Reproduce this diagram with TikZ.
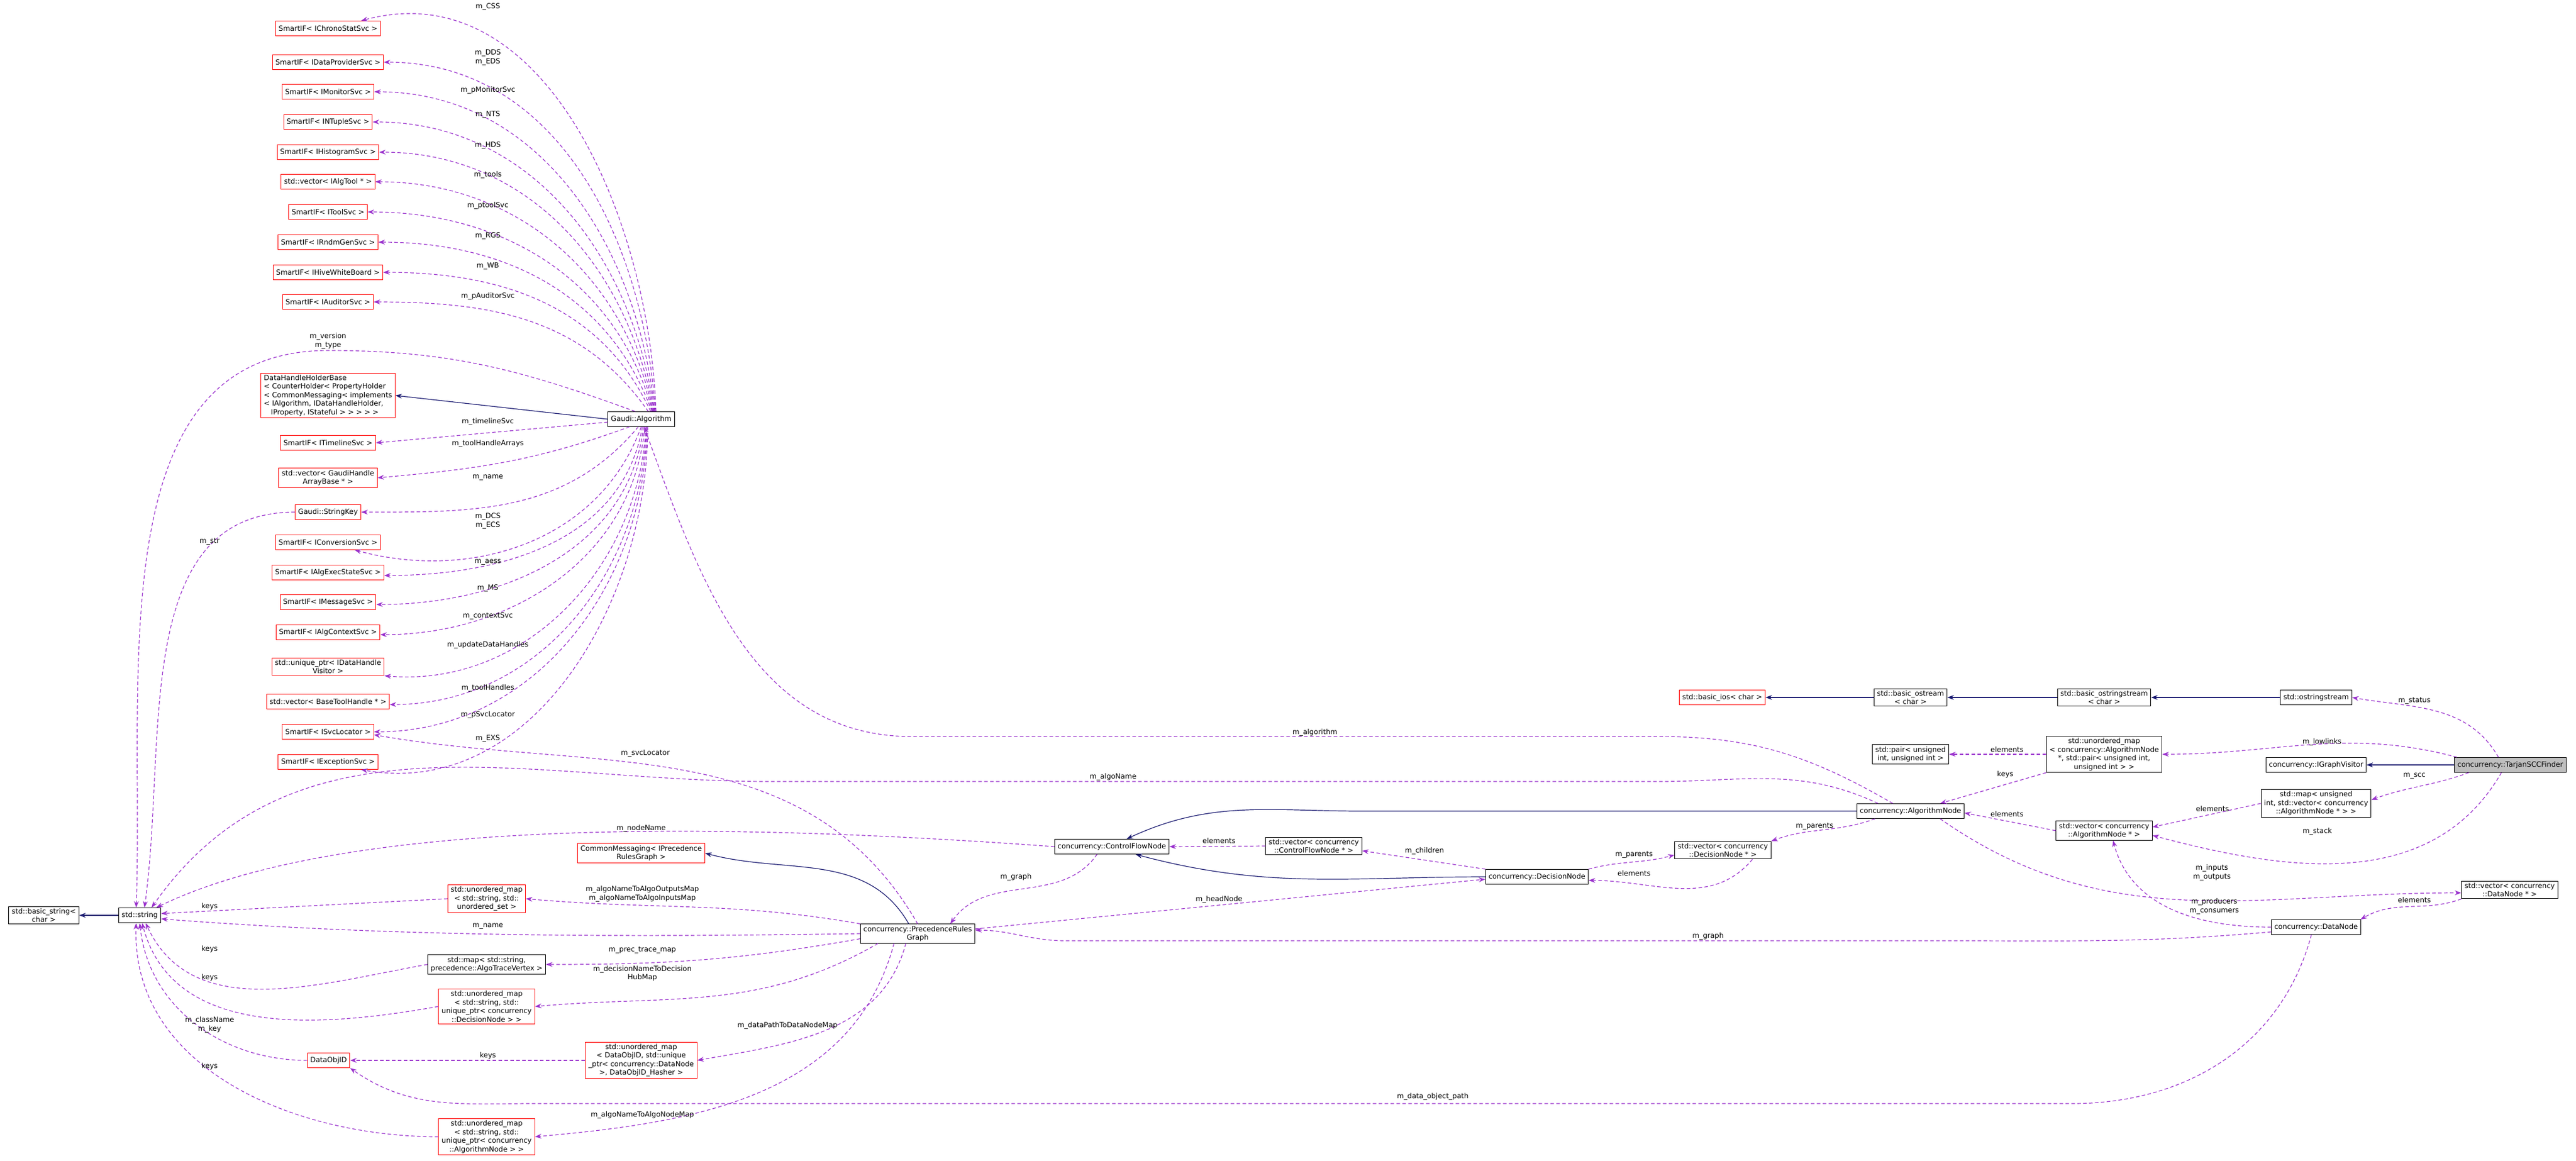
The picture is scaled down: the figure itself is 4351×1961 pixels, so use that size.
\documentclass[tikz,border=0pt]{standalone}
\usepackage{fontspec}
\setmainfont{DejaVu Sans}
\usetikzlibrary{arrows.meta}
\definecolor{edgepurple}{HTML}{9A32CD}
\definecolor{edgenavy}{HTML}{191970}
\begin{document}
\begin{tikzpicture}[
    x=0.25pt, y=-0.25pt,
    every node/.style={font=\fontsize{3}{3.625}\selectfont},
    cls/.style={draw=black, fill=white, line width=0.25pt, align=center, inner xsep=1.25pt, inner ysep=0.75pt, minimum height=6.25pt},
    undoc/.style={cls, draw=red},
    lbl/.style={align=center, inner sep=0.25pt},
    member/.style={draw=edgepurple, line width=0.3pt, dash pattern=on 1.5pt off 1pt, -{Stealth[length=2.75pt,width=2pt]}},
    inherit/.style={draw=edgenavy, line width=0.3pt, -{Stealth[length=2.75pt,width=2pt]}}
]
    \useasboundingbox (0,0) rectangle (4351,1961);

    % Gaudi::Algorithm and its members
    \node[cls] (ga) at (1083,708) {Gaudi::Algorithm};
    \node[undoc] (chrono) at (554,48) {SmartIF< IChronoStatSvc >};
    \node[undoc] (dataprov) at (554,105) {SmartIF< IDataProviderSvc >};
    \node[undoc] (monitor) at (554,155) {SmartIF< IMonitorSvc >};
    \node[undoc] (ntuple) at (554,206) {SmartIF< INTupleSvc >};
    \node[undoc] (histo) at (554,257) {SmartIF< IHistogramSvc >};
    \node[undoc] (algtool) at (554,307) {std::vector< IAlgTool * >};
    \node[undoc] (toolsvc) at (554,358) {SmartIF< IToolSvc >};
    \node[undoc] (rndm) at (554,409) {SmartIF< IRndmGenSvc >};
    \node[undoc] (hive) at (554,460) {SmartIF< IHiveWhiteBoard >};
    \node[undoc] (auditor) at (554,510) {SmartIF< IAuditorSvc >};
    \node[undoc, align=left] (datahandle) at (554,668) {DataHandleHolderBase\\< CounterHolder< PropertyHolder\\< CommonMessaging< implements\\< IAlgorithm, IDataHandleHolder,\\\quad IProperty, IStateful > > > > >};
    \node[undoc] (timeline) at (554,748) {SmartIF< ITimelineSvc >};
    \node[undoc] (gaudihandle) at (554,807) {std::vector< GaudiHandle\\ArrayBase * >};
    \node[undoc] (stringkey) at (554,865) {Gaudi::StringKey};
    \node[undoc] (conversion) at (554,916) {SmartIF< IConversionSvc >};
    \node[undoc] (algexec) at (554,967) {SmartIF< IAlgExecStateSvc >};
    \node[undoc] (message) at (554,1017) {SmartIF< IMessageSvc >};
    \node[undoc] (algcontext) at (554,1068) {SmartIF< IAlgContextSvc >};
    \node[undoc] (dhvisitor) at (554,1126) {std::unique\_ptr< IDataHandle\\Visitor >};
    \node[undoc] (basetool) at (554,1185) {std::vector< BaseToolHandle * >};
    \node[undoc] (svclocator) at (554,1236) {SmartIF< ISvcLocator >};
    \node[undoc] (exception) at (554,1287) {SmartIF< IExceptionSvc >};

    % strings and graph containers
    \node[cls] (basicstring) at (74,1546) {std::basic\_string<\\char >};
    \node[cls] (string) at (236,1546) {std::string};
    \node[undoc] (commonmsg) at (1083,1441) {CommonMessaging< IPrecedence\\RulesGraph >};
    \node[undoc] (umapset) at (822,1518) {std::unordered\_map\\< std::string, std::\\unordered\_set >};
    \node[cls] (maptrace) at (822,1629) {std::map< std::string,\\precedence::AlgoTraceVertex >};
    \node[undoc] (umapdec) at (822,1700) {std::unordered\_map\\< std::string, std::\\unique\_ptr< concurrency\\::DecisionNode > >};
    \node[undoc] (dataobjid) at (555,1791) {DataObjID};
    \node[undoc] (umapdobj) at (1083,1791) {std::unordered\_map\\< DataObjID, std::unique\\\_ptr< concurrency::DataNode\\>, DataObjID\_Hasher >};
    \node[undoc] (umapalgo) at (822,1920) {std::unordered\_map\\< std::string, std::\\unique\_ptr< concurrency\\::AlgorithmNode > >};
    \node[cls] (pg) at (1550,1577) {concurrency::PrecedenceRules\\Graph};

    % control flow nodes
    \node[cls] (cfn) at (1878,1430) {concurrency::ControlFlowNode};
    \node[cls] (vcfn) at (2219,1429) {std::vector< concurrency\\::ControlFlowNode * >};
    \node[cls] (decision) at (2596,1481) {concurrency::DecisionNode};
    \node[cls] (vdec) at (2910,1436) {std::vector< concurrency\\::DecisionNode * >};
    \node[cls] (algnode) at (3227,1370) {concurrency::AlgorithmNode};
    \node[cls] (pair) at (3227,1274) {std::pair< unsigned\\int, unsigned int >};
    \node[cls] (umapalg) at (3554,1274) {std::unordered\_map\\< concurrency::AlgorithmNode\\*, std::pair< unsigned int,\\unsigned int > >};
    \node[cls] (valg) at (3554,1403) {std::vector< concurrency\\::AlgorithmNode * >};
    \node[cls] (mapscc) at (3912,1357) {std::map< unsigned\\int, std::vector< concurrency\\::AlgorithmNode * > >};
    \node[cls] (vdn) at (4239,1503) {std::vector< concurrency\\::DataNode * >};
    \node[cls] (datanode) at (3912,1566) {concurrency::DataNode};

    % streams and the finder
    \node[undoc] (basicios) at (2909,1178) {std::basic\_ios< char >};
    \node[cls] (ostream) at (3227,1178) {std::basic\_ostream\\< char >};
    \node[cls] (ostrstream) at (3554,1178) {std::basic\_ostringstream\\< char >};
    \node[cls] (oss) at (3912,1178) {std::ostringstream};
    \node[cls] (igv) at (3912,1292) {concurrency::IGraphVisitor};
    \node[cls, fill=black!25] (tarjan) at (4240,1292) {concurrency::TarjanSCCFinder};

    % Inheritance
    \draw[inherit] (ga.west) -- (datahandle.east);
    \draw[inherit] (string) -- (basicstring);
    \draw[inherit] ([xshift=-3.75pt]pg.north) to[out=120,in=-15] (commonmsg.east);
    \draw[inherit] (decision.west) to[out=180,in=-15] ([xshift=10pt]cfn.south);
    \draw[inherit] (algnode.west) -- (2300,1370) to[out=180,in=25] ([xshift=6.25pt]cfn.north);
    \draw[inherit] (oss) -- (ostrstream);
    \draw[inherit] (ostrstream) -- (ostream);
    \draw[inherit] (ostream) -- (basicios);
    \draw[inherit] (tarjan) -- (igv);

    % Members of Gaudi::Algorithm
    \draw[member] ([xshift=6.25pt]ga.north) to[out=92,in=15] ([xshift=14pt]chrono.north);
    \draw[member] ([xshift=6pt]ga.north) to[out=94,in=0] (dataprov.east);
    \draw[member] ([xshift=5.75pt]ga.north) to[out=96,in=0] (monitor.east);
    \draw[member] ([xshift=5.5pt]ga.north) to[out=98,in=0] (ntuple.east);
    \draw[member] ([xshift=5.25pt]ga.north) to[out=100,in=0] (histo.east);
    \draw[member] ([xshift=5pt]ga.north) to[out=102,in=0] (algtool.east);
    \draw[member] ([xshift=4.75pt]ga.north) to[out=105,in=0] (toolsvc.east);
    \draw[member] ([xshift=4.5pt]ga.north) to[out=110,in=0] (rndm.east);
    \draw[member] ([xshift=4pt]ga.north) to[out=115,in=0] (hive.east);
    \draw[member] ([xshift=3pt]ga.north) to[out=125,in=0] (auditor.east);
    \draw[member] ([xshift=-2.5pt]ga.north) to[out=160,in=0] (554,592) to[out=180,in=88] ([xshift=-1.5pt]string.north);
    \draw[member] ([yshift=-1.25pt]ga.west) -- (timeline.east);
    \draw[member] ([xshift=-5pt]ga.south) to[out=-160,in=5] (gaudihandle.east);
    \draw[member] ([xshift=-1.25pt]ga.south) to[out=-130,in=0] (stringkey.east);
    \draw[member] (ga.south) to[out=-110,in=-15] ([xshift=11.25pt]conversion.south);
    \draw[member] ([xshift=0.5pt]ga.south) to[out=-100,in=0] ([yshift=-1.25pt]algexec.east);
    \draw[member] ([xshift=1pt]ga.south) to[out=-97,in=0] ([yshift=-1pt]message.east);
    \draw[member] ([xshift=1.5pt]ga.south) to[out=-95,in=0] ([yshift=-1pt]algcontext.east);
    \draw[member] ([xshift=2pt]ga.south) to[out=-93,in=-5] (dhvisitor.south east);
    \draw[member] ([xshift=2.25pt]ga.south) to[out=-92,in=0] ([yshift=-1.25pt]basetool.east);
    \draw[member] ([xshift=2.5pt]ga.south) to[out=-91,in=0] (svclocator.east);
    \draw[member] ([xshift=2.75pt]ga.south) to[out=-90,in=-10] ([xshift=14pt]exception.south);
    \draw[member] (stringkey.west) to[out=180,in=82] ([xshift=2pt]string.north);

    % Members of the precedence graph
    \draw[member] (pg.north) to[out=120,in=-10] ([yshift=-1.25pt]svclocator.east);
    \draw[member] (pg.north west) to[out=170,in=-5] (umapset.east);
    \draw[member] (pg.west) .. controls (1100,1582) and (700,1585) .. ([yshift=-1.5pt]string.east);
    \draw[member] ([yshift=2pt]pg.south west) to[out=190,in=0] (maptrace.east);
    \draw[member] ([xshift=7.5pt]pg.south west) to[out=-150,in=5] (umapdec.east);
    \draw[member] ([xshift=-5pt]pg.south) to[out=-105,in=10] (umapdobj.east);
    \draw[member] ([xshift=-10pt]pg.south) to[out=-105,in=5] (umapalgo.east);
    \draw[member] ([yshift=2pt]pg.east) -- ([yshift=-1pt]decision.west);
    \draw[member] (umapset.west) -- ([yshift=0.75pt]string.east);
    \draw[member] (maptrace.west) to[out=190,in=-65] ([xshift=2.5pt]string.south);
    \draw[member] (umapdec.west) to[out=190,in=-75] ([xshift=1pt]string.south);
    \draw[member] (dataobjid.west) to[out=180,in=-84] (string.south);
    \draw[member] (umapalgo.west) to[out=180,in=-92] ([xshift=-1.5pt]string.south);
    \draw[member] (umapdobj.west) -- (dataobjid.east);

    % Members of the flow nodes
    \draw[member] (cfn.west) .. controls (1300,1395) and (600,1370) .. ([xshift=7pt]string.north);
    \draw[member] ([xshift=-6.25pt]cfn.south) to[out=-125,in=55] ([xshift=13.75pt]pg.north);
    \draw[member] (vcfn.west) -- (cfn.east);
    \draw[member] (decision.north west) -- ([yshift=-2pt]vcfn.east);
    \draw[member] (decision.north east) to[out=15,in=195] ([yshift=-2pt]vdec.west);
    \draw[member] ([xshift=12.5pt]vdec.south) to[out=-130,in=0] ([yshift=-1.5pt]decision.east);
    \draw[member] ([xshift=-7.5pt]algnode.north) to[out=150,in=0] (2800,1244) -- (1540,1244) to[out=180,in=-70] ([xshift=1.25pt]ga.south);
    \draw[member] ([xshift=-13.75pt]algnode.north) to[out=155,in=0] (2800,1320) -- (1300,1320) to[out=180,in=55] ([xshift=5pt]string.north);
    \draw[member] ([xshift=-15pt]algnode.south) to[out=-160,in=20] (vdec.north east);
    \draw[member] (umapalg.south west) -- ([xshift=12.5pt]algnode.north);
    \draw[member] (umapalg.west) -- (pair.east);
    \draw[member] (valg.west) -- ([yshift=-0.75pt]algnode.east);
    \draw[member] ([xshift=12.5pt]algnode.south) to[out=-35,in=180] ([yshift=-1.25pt]vdn.west);
    \draw[member] (vdn.south west) to[out=-160,in=30] ([xshift=18.75pt]datanode.north);
    \draw[member] (datanode.west) to[out=180,in=-75] ([xshift=3.75pt]valg.south);
    \draw[member] ([yshift=-2pt]datanode.west) to[out=185,in=0] (3300,1589) -- (1800,1589) to[out=180,in=0] ([yshift=1.5pt]pg.east);
    \draw[member] ([xshift=-2pt]datanode.south) to[out=-105,in=0] (3500,1864) -- (900,1864) to[out=180,in=-35] (dataobjid.south east);

    % Members of the finder
    \draw[member] ([xshift=-5pt]tarjan.north) to[out=120,in=-10] (oss.east);
    \draw[member] ([xshift=-22.5pt]tarjan.north) to[out=165,in=0] (umapalg.east);
    \draw[member] ([xshift=-17.5pt]tarjan.south) to[out=-160,in=20] ([yshift=1.5pt]mapscc.east);
    \draw[member] ([xshift=-3.75pt]tarjan.south) to[out=-120,in=-15] ([yshift=-2pt]valg.east);
    \draw[member] (mapscc.west) -- ([yshift=1.5pt]valg.east);

    % Edge labels
    \node[lbl] (lcss) at (824,11) {m\_CSS};
    \node[lbl] (ldds) at (824,97) {m\_DDS\\m\_EDS};
    \node[lbl] (lmon) at (824,152) {m\_pMonitorSvc};
    \node[lbl] (lnts) at (824,193) {m\_NTS};
    \node[lbl] (lhds) at (824,245) {m\_HDS};
    \node[lbl] (ltools) at (824,295) {m\_tools};
    \node[lbl] (lptool) at (824,347) {m\_ptoolSvc};
    \node[lbl] (lrgs) at (824,398) {m\_RGS};
    \node[lbl] (lwb) at (824,450) {m\_WB};
    \node[lbl] (laud) at (824,500) {m\_pAuditorSvc};
    \node[lbl] (lversion) at (554,576) {m\_version\\m\_type};
    \node[lbl] (ltimeline) at (824,712) {m\_timelineSvc};
    \node[lbl] (lthandles) at (824,749) {m\_toolHandleArrays};
    \node[lbl] (lname) at (824,807) {m\_name};
    \node[lbl] (ldcs) at (824,880) {m\_DCS\\m\_ECS};
    \node[lbl] (laess) at (824,950) {m\_aess};
    \node[lbl] (lms) at (824,993) {m\_MS};
    \node[lbl] (lctx) at (824,1040) {m\_contextSvc};
    \node[lbl] (lupd) at (824,1089) {m\_updateDataHandles};
    \node[lbl] (ltoolh) at (824,1162) {m\_toolHandles};
    \node[lbl] (lpsvc) at (824,1207) {m\_pSvcLocator};
    \node[lbl] (lexs) at (824,1247) {m\_EXS};
    \node[lbl] (lstr) at (354,915) {m\_str};
    \node[lbl] (lsvcloc) at (1090,1273) {m\_svcLocator};
    \node[lbl] (lnodename) at (1083,1399) {m\_nodeName};
    \node[lbl] (lmaps) at (1085,1510) {m\_algoNameToAlgoOutputsMap\\m\_algoNameToAlgoInputsMap};
    \node[lbl] (lpgname) at (824,1565) {m\_name};
    \node[lbl] (ltrace) at (1085,1605) {m\_prec\_trace\_map};
    \node[lbl] (ldechub) at (1085,1644) {m\_decisionNameToDecision\\HubMap};
    \node[lbl] (ldpath) at (1330,1732) {m\_dataPathToDataNodeMap};
    \node[lbl] (lalgomap) at (1085,1883) {m\_algoNameToAlgoNodeMap};
    \node[lbl] (lkeys1) at (354,1531) {keys};
    \node[lbl] (lkeys2) at (354,1603) {keys};
    \node[lbl] (lkeys3) at (354,1651) {keys};
    \node[lbl] (lclass) at (354,1731) {m\_className\\m\_key};
    \node[lbl] (lkeys4) at (354,1801) {keys};
    \node[lbl] (lkeys5) at (824,1783) {keys};
    \node[lbl] (lobjpath) at (2420,1852) {m\_data\_object\_path};
    \node[lbl] (lcfgraph) at (1716,1481) {m\_graph};
    \node[lbl] (lhead) at (2059,1519) {m\_headNode};
    \node[lbl] (lcfelem) at (2059,1420) {elements};
    \node[lbl] (lchildren) at (2406,1437) {m\_children};
    \node[lbl] (lparents) at (2760,1444) {m\_parents};
    \node[lbl] (ldecelem) at (2760,1475) {elements};
    \node[lbl] (lalgo) at (2221,1237) {m\_algorithm};
    \node[lbl] (lalgoname) at (1880,1312) {m\_algoName};
    \node[lbl] (lanparents) at (3065,1396) {m\_parents};
    \node[lbl] (lankeys) at (3387,1308) {keys};
    \node[lbl] (lpairelem) at (3390,1266) {elements};
    \node[lbl] (lvalgelem) at (3390,1375) {elements};
    \node[lbl] (linputs) at (3736,1474) {m\_inputs\\m\_outputs};
    \node[lbl] (lvdnelem) at (4078,1520) {elements};
    \node[lbl] (lprod) at (3740,1531) {m\_producers\\m\_consumers};
    \node[lbl] (ldngraph) at (2885,1581) {m\_graph};
    \node[lbl] (lstatus) at (4078,1184) {m\_status};
    \node[lbl] (llow) at (3922,1253) {m\_lowlinks};
    \node[lbl] (lscc) at (4078,1311) {m\_scc};
    \node[lbl] (lstack) at (3914,1404) {m\_stack};
    \node[lbl] (lsccelem) at (3737,1366) {elements};
\end{tikzpicture}
\end{document}
